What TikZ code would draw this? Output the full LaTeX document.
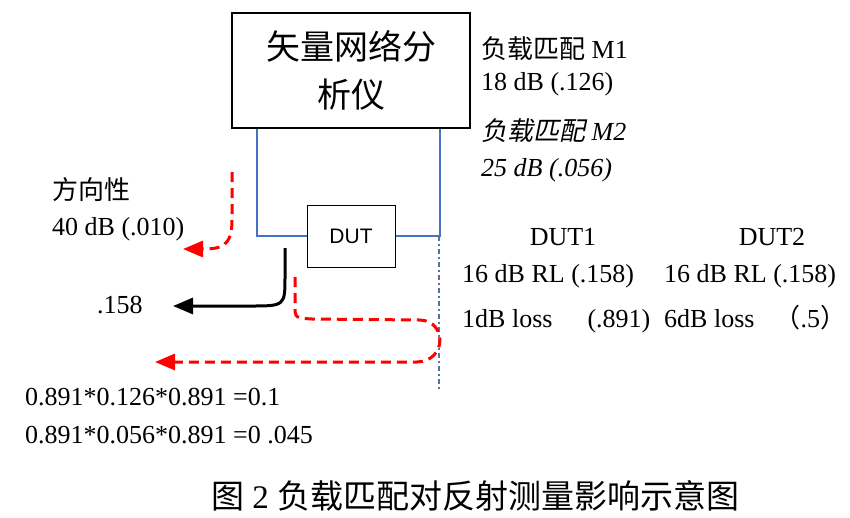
\documentclass[tikz,border=0pt]{standalone}
\usepackage{fontspec}
\setmainfont{Liberation Serif}
\newfontfamily\cjk{Noto Sans CJK SC}
\newfontfamily\cjkit{Noto Sans CJK SC}[FakeSlant=0.2]
\newfontfamily\dutfont{Liberation Sans}
\usepackage{xcolor}
\usetikzlibrary{positioning, calc, arrows.meta}
\definecolor{linkblue}{RGB}{68,114,196}
\definecolor{probeblue}{RGB}{90,110,170}

\begin{document}
\begin{tikzpicture}[x=1pt,y=-1pt,
        txt/.style={anchor=base west, inner sep=0pt, font=\fontsize{26}{30}\selectfont},
        link/.style={linkblue, line width=1.2pt},
        probe/.style={probeblue, line width=2pt, dash pattern=on 5pt off 3pt on 2pt off 3pt},
        refl/.style={red, line width=3pt, dash pattern=on 10pt off 6pt, -{Triangle[length=20pt,width=16pt]}},
        direct/.style={black, line width=3pt, -{Triangle[length=20pt,width=16pt]}}]
        \useasboundingbox (0,0) rectangle (850,517);
        \node[draw,line width=2pt,minimum width=238pt,minimum height=115pt,align=center,
            font=\cjk\fontsize{34}{48}\selectfont] (vna) at (351,70.5) {矢量网络分\\析仪};
        \node[draw,line width=1pt,minimum width=88pt,minimum height=62pt,
            font=\dutfont\fontsize{21}{24}\selectfont] (dut) at (351,236) {DUT};
        \coordinate (tap) at (439,236);
        \coordinate (tail) at (439,390);
        \draw[link] ([xshift=26pt]vna.south west) |- (dut.west);
        \draw[link] ([xshift=-31pt]vna.south east) |- (dut.east);
        \draw[probe] (tap) -- (tail);
        % reflected paths
        \coordinate (dirstart) at (232,172);
        \coordinate (rlstart) at (285,248);
        \coordinate (mmstart) at (295,277);
        \draw[refl] (dirstart) -- (232,220) .. controls (232,246) and (222,249) .. (183,249);
        \draw[direct] (rlstart) -- (285,276) .. controls (285,306) .. (250,306) -- (173,306);
        \draw[refl] (mmstart) -- (295,305) .. controls (295,318) .. (312,319) -- (420,320)
            .. controls (447,321) and (447,361) .. (417,362) -- (155,362);
        % labels
        \node[txt] (m1) at (481,58) {{\cjk 负载匹配} M1};
        \node[txt] (m1v) at (481,90) {18 dB (.126)};
        \node[txt] (m2) at (481,140) {{\cjkit 负载匹配} \textit{M2}};
        \node[txt] (m2v) at (481,176) {\itshape 25 dB (.056)};
        \node[txt] (dir) at (52,199) {\cjk 方向性};
        \node[txt] (dirv) at (52,235) {40 dB (.010)};
        \node[txt] (rl) at (97,313) {.158};
        \node[txt,anchor=base] (dut1) at (563,245) {DUT1};
        \node[txt,anchor=base] (dut2) at (772,245) {DUT2};
        \node[txt] (dut1rl) at (462,282) {16 dB RL (.158)};
        \node[txt] (dut2rl) at (664,282) {16 dB RL (.158)};
        \node[txt] (dut1loss) at (462,327) {1dB loss\hspace{35pt}(.891)};
        \node[txt] (dut2loss) at (664,327) {6dB loss\hspace{20pt}{\cjk （}.5{\cjk ）}};
        \node[txt] (err1) at (25,405) {0.891*0.126*0.891 =0.1};
        \node[txt] (err2) at (25,443) {0.891*0.056*0.891 =0 .045};
        \node[txt,anchor=base,font=\fontsize{33}{36}\selectfont] (cap) at (475,508)
            {{\cjk 图} 2 {\cjk 负载匹配对反射测量影响示意图}};
    \end{tikzpicture}
\end{document}
